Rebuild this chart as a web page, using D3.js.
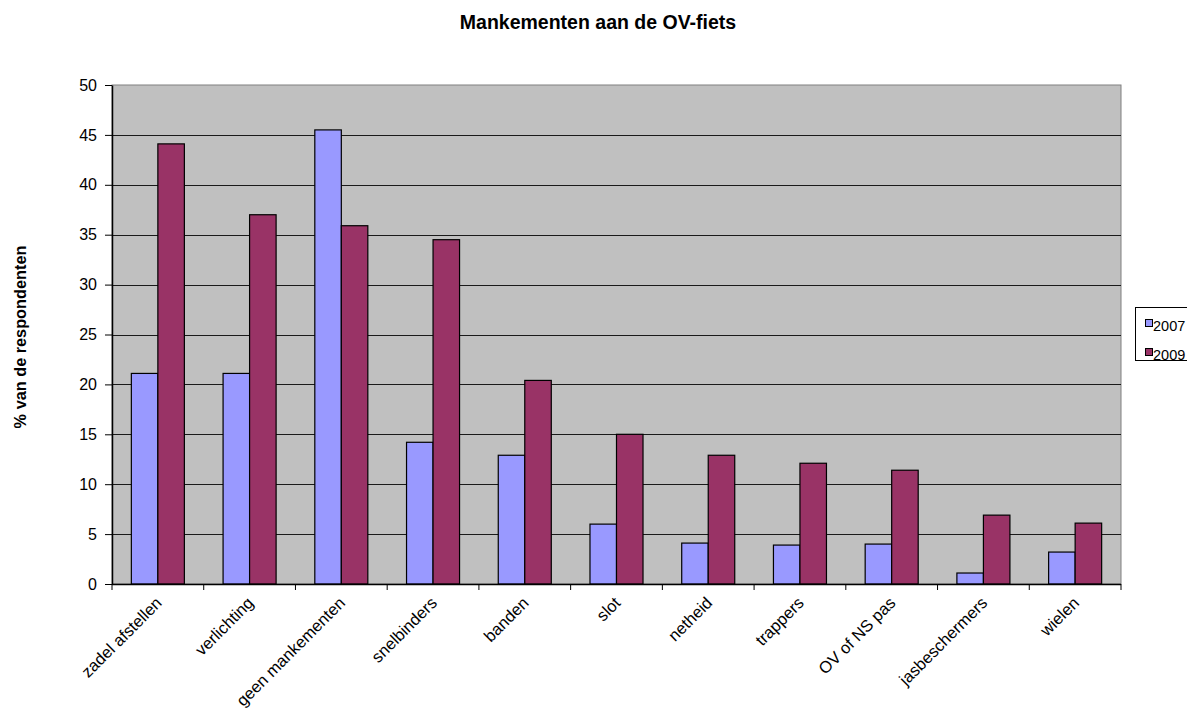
<!DOCTYPE html>
<html>
<head>
<meta charset="utf-8">
<script src="https://cdn.jsdelivr.net/npm/d3@7"></script>
<style>
  html, body { margin: 0; padding: 0; background: #fff; }
  svg { display: block; font-family: "Liberation Sans", Arial, sans-serif; }
</style>
</head>
<body>
<svg id="chart" width="1187" height="711"></svg>
<script>
// Mankementen aan de OV-fiets, 2007 vs 2009 (% van de respondenten)
const categories = ["zadel afstellen", "verlichting", "geen mankementen", "snelbinders", "banden",
  "slot", "netheid", "trappers", "OV of NS pas", "jasbeschermers", "wielen"];
const values2007 = [21.1, 21.1, 45.5, 14.2, 12.9, 6.0, 4.1, 3.9, 4.0, 1.1, 3.2];
const values2009 = [44.1, 37.0, 35.9, 34.5, 20.4, 15.0, 12.9, 12.1, 11.4, 6.9, 6.1];
const seriesNames = ["2007", "2009"];
const seriesColors = ["#9999ff", "#993366"];
const yTicks = [0, 5, 10, 15, 20, 25, 30, 35, 40, 45, 50];

const svg = d3.select("#chart");
const plot = { left: 112, right: 1121, top: 85, bottom: 584 };

const x = d3.scaleBand().domain(categories).range([plot.left, plot.right]).paddingInner(0).paddingOuter(0);
const y = d3.scaleLinear().domain([0, 50]).range([plot.bottom, plot.top]);
const inner = d3.scaleBand().domain(seriesNames).range([0, x.bandwidth()]).paddingInner(0).paddingOuter(0.73);

// plot background
svg.append("rect")
  .attr("x", plot.left).attr("y", plot.top)
  .attr("width", plot.right - plot.left).attr("height", plot.bottom - plot.top)
  .attr("fill", "#c0c0c0").attr("stroke", "#808080").attr("stroke-width", 1);

// horizontal gridlines
svg.append("g").selectAll("line").data(yTicks.filter(t => t > 0 && t < 50)).join("line")
  .attr("x1", plot.left).attr("x2", plot.right)
  .attr("y1", d => Math.round(y(d)) + 0.5).attr("y2", d => Math.round(y(d)) + 0.5)
  .attr("stroke", "#1a1a1a").attr("stroke-width", 1);

// bars
const rows = categories.map((c, i) => ({ cat: c, vals: [values2007[i], values2009[i]] }));
const groups = svg.append("g").selectAll("g").data(rows).join("g")
  .attr("transform", d => `translate(${x(d.cat)},0)`);
groups.selectAll("rect").data(d => d.vals.map((v, k) => ({ v, k }))).join("rect")
  .attr("x", d => inner(seriesNames[d.k]))
  .attr("width", inner.bandwidth())
  .attr("y", d => y(d.v))
  .attr("height", d => y(0) - y(d.v))
  .attr("fill", d => seriesColors[d.k])
  .attr("stroke", "#000").attr("stroke-width", 1.2);

// y axis
const yAxis = svg.append("g")
  .attr("transform", `translate(${plot.left},0)`)
  .call(d3.axisLeft(y).tickValues(yTicks).tickSize(7).tickPadding(8).tickSizeOuter(0));
yAxis.select(".domain").attr("stroke", "#000").attr("stroke-width", 1.5);
yAxis.selectAll(".tick line").attr("stroke", "#000");
yAxis.selectAll(".tick text").attr("font-size", 16).attr("fill", "#000")
  .attr("font-family", "Liberation Sans, Arial, sans-serif");

// x axis
const xTickVals = d3.range(categories.length + 1).map(i => plot.left + i * x.bandwidth());
const xg = svg.append("g");
xg.append("line").attr("x1", plot.left).attr("x2", plot.right)
  .attr("y1", plot.bottom + 0.5).attr("y2", plot.bottom + 0.5)
  .attr("stroke", "#000").attr("stroke-width", 1.5);
xg.selectAll("line.tick").data(xTickVals).join("line").attr("class", "tick")
  .attr("x1", d => d).attr("x2", d => d)
  .attr("y1", plot.bottom).attr("y2", plot.bottom + 6)
  .attr("stroke", "#000");

// category labels, rotated
svg.append("g").selectAll("text").data(categories).join("text")
  .attr("transform", d => `translate(${x(d) + x.bandwidth() / 2 + 5},${plot.bottom + 20}) rotate(-45)`)
  .attr("text-anchor", "end")
  .attr("font-size", 16.5)
  .attr("fill", "#000")
  .text(d => d);

// title
svg.append("text")
  .attr("x", 598).attr("y", 29)
  .attr("text-anchor", "middle")
  .attr("font-size", 19.5).attr("font-weight", "bold")
  .text("Mankementen aan de OV-fiets");

// y axis title
svg.append("text")
  .attr("transform", `translate(26,337) rotate(-90)`)
  .attr("text-anchor", "middle")
  .attr("font-size", 16.3).attr("font-weight", "bold")
  .text("% van de respondenten");

// legend
const lg = svg.append("g").attr("transform", "translate(1135,307)");
lg.append("rect").attr("x", 0.5).attr("y", 0.5).attr("width", 70).attr("height", 53)
  .attr("fill", "#fff").attr("stroke", "#000");
seriesNames.forEach((s, i) => {
  const row = lg.append("g").attr("transform", `translate(10,${19 + i * 29})`);
  row.append("rect").attr("x", 0.5).attr("y", -6.5).attr("width", 7).attr("height", 7)
    .attr("fill", seriesColors[i]).attr("stroke", "#000");
  row.append("text").attr("x", 8).attr("y", 5)
    .attr("font-size", 14.5).attr("fill", "#000").text(s);
});
</script>
</body>
</html>
